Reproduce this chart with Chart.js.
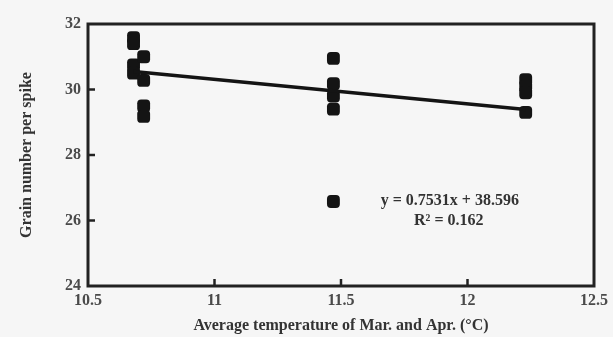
<!DOCTYPE html>
<html>
<head>
<meta charset="utf-8">
<script src="https://cdn.jsdelivr.net/npm/chart.js@4/dist/chart.umd.min.js"></script>
<style>
  html, body { margin: 0; padding: 0; background: #f6f6f6; }
  #wrap { width: 613px; height: 337px; position: relative; }
</style>
</head>
<body>
<div id="wrap"><canvas id="c" width="613" height="337"></canvas></div>
<script>
const tempX  = [10.68, 10.68, 10.68, 10.68, 10.72, 10.72, 10.72, 10.72, 11.47, 11.47, 11.47, 11.47, 11.47, 12.23, 12.23, 12.23, 12.23];
const grainY = [31.58, 31.40, 30.75, 30.50, 31.00, 30.28, 29.50, 29.18, 30.95, 30.18, 29.80, 29.40, 26.58, 30.30, 30.10, 29.90, 29.30];
// Trend line end points
const trendX = [10.68, 12.23];
const trendY = [30.55, 29.39];
// Axis ticks
const xTicks = [10.5, 11, 11.5, 12, 12.5];
const yTicks = [24, 26, 28, 30, 32];
const eqText = ["y = 0.7531x + 38.596", "R\u00b2 = 0.162"];

const serif = "'Liberation Serif', 'DejaVu Serif', serif";
const ink = '#141414';

const frameAndTicks = {
  id: 'frameAndTicks',
  afterDatasetsDraw(chart) {
    const { ctx, chartArea: a, scales } = chart;
    ctx.save();
    ctx.strokeStyle = '#222';
    ctx.lineWidth = 3;
    ctx.strokeRect(a.left, a.top, a.right - a.left, a.bottom - a.top);
    ctx.lineWidth = 2.5;
    xTicks.forEach(v => {
      const px = scales.x.getPixelForValue(v);
      if (px > a.left + 2 && px < a.right - 2) {
        ctx.beginPath(); ctx.moveTo(px, a.bottom); ctx.lineTo(px, a.bottom - 7); ctx.stroke();
      }
    });
    yTicks.forEach(v => {
      const py = scales.y.getPixelForValue(v);
      if (py > a.top + 2 && py < a.bottom - 2) {
        ctx.beginPath(); ctx.moveTo(a.left, py); ctx.lineTo(a.left + 7, py); ctx.stroke();
      }
    });
    // regression equation annotation
    ctx.fillStyle = '#333';
    ctx.font = "bold 16px " + serif;
    ctx.textAlign = 'center';
    ctx.textBaseline = 'middle';
    const ex = scales.x.getPixelForValue(11.93);
    ctx.fillText(eqText[0], ex, scales.y.getPixelForValue(26.6));
    ctx.fillText(eqText[1], ex - 1, scales.y.getPixelForValue(25.98));
    ctx.restore();
  }
};

new Chart(document.getElementById('c'), {
  data: {
    datasets: [
      {
        type: 'scatter',
        data: tempX.map((x, i) => ({ x, y: grainY[i] })),
        pointStyle: 'rectRounded',
        pointRadius: 7.5,
        backgroundColor: ink,
        borderColor: ink,
        borderWidth: 0,
        order: 2
      },
      {
        type: 'line',
        data: trendX.map((x, i) => ({ x, y: trendY[i] })),
        borderColor: ink,
        borderWidth: 3.5,
        pointRadius: 0,
        fill: false,
        order: 1
      }
    ]
  },
  options: {
    responsive: false,
    animation: false,
    layout: { padding: { top: 24, right: 11, left: 0, bottom: 0 } },
    plugins: { legend: { display: false }, tooltip: { enabled: false } },
    scales: {
      x: {
        type: 'linear',
        min: 10.5, max: 12.5,
        afterBuildTicks: s => { s.ticks = xTicks.map(v => ({ value: v })); },
        afterFit: s => { s.height = 51; },
        grid: { display: false, drawTicks: false },
        border: { display: false },
        ticks: {
          padding: 5,
          color: '#4a4a4a',
          font: { family: serif, size: 16, weight: 'bold' },
          callback: v => String(v)
        },
        title: {
          display: true,
          text: 'Average temperature of Mar. and Apr. (\u00b0C)',
          color: '#333',
          font: { family: serif, size: 16, weight: 'bold' },
          padding: { top: 4, bottom: 2 }
        }
      },
      y: {
        type: 'linear',
        min: 24, max: 32,
        afterBuildTicks: s => { s.ticks = yTicks.map(v => ({ value: v })); },
        afterFit: s => { s.width = 88; },
        grid: { display: false, drawTicks: false },
        border: { display: false },
        ticks: {
          padding: 7,
          color: '#4a4a4a',
          font: { family: serif, size: 16, weight: 'bold' },
          callback: v => String(v)
        },
        title: {
          display: true,
          text: 'Grain number per spike',
          color: '#333',
          font: { family: serif, size: 16, weight: 'bold' },
          padding: { top: 17, bottom: 0 }
        }
      }
    }
  },
  plugins: [frameAndTicks]
});
</script>
</body>
</html>
